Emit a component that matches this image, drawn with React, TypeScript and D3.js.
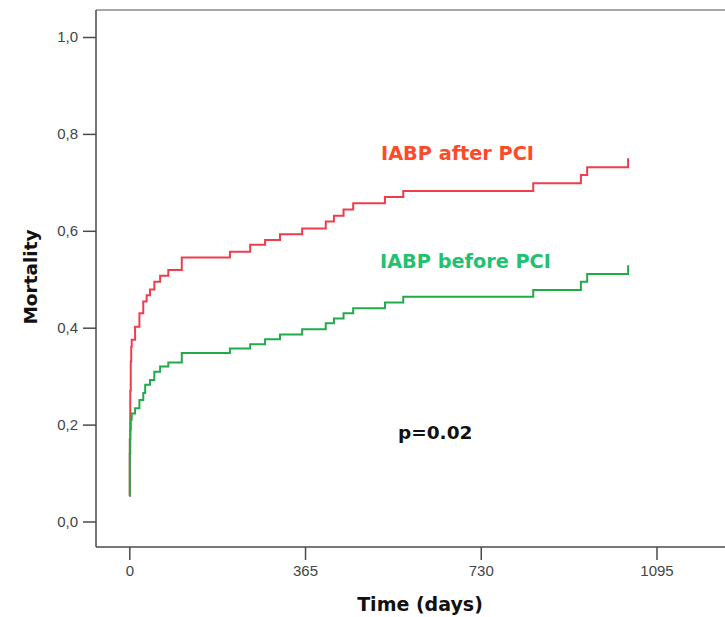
import React, { useEffect, useRef } from "react";
import * as d3 from "d3";

// Kaplan-Meier style mortality curves
const afterDays = [0, 1, 2, 3, 4, 5, 12, 21, 29, 36, 43, 52, 64, 81, 109, 209, 251, 282, 313, 359, 408, 425, 445, 465, 531, 569, 839, 938, 951, 1036];
const afterMortality = [0.053, 0.17, 0.27, 0.33, 0.36, 0.375, 0.402, 0.43, 0.454, 0.467, 0.479, 0.495, 0.507, 0.519, 0.545, 0.557, 0.571, 0.581, 0.593, 0.605, 0.619, 0.631, 0.644, 0.657, 0.67, 0.682, 0.698, 0.715, 0.731, 0.75];

const beforeDays = [0, 1, 2, 3, 5, 12, 21, 29, 33, 43, 52, 64, 81, 109, 209, 251, 282, 313, 359, 408, 425, 445, 465, 531, 569, 839, 938, 951, 1036];
const beforeMortality = [0.053, 0.14, 0.19, 0.21, 0.223, 0.234, 0.251, 0.265, 0.282, 0.292, 0.309, 0.32, 0.328, 0.348, 0.357, 0.366, 0.376, 0.386, 0.397, 0.409, 0.419, 0.43, 0.44, 0.452, 0.464, 0.478, 0.495, 0.511, 0.529];

const xTicks = [0, 365, 730, 1095];
const yTicks = [0, 0.2, 0.4, 0.6, 0.8, 1.0];

const W = 725;
const H = 617;

export default function App() {
  const ref = useRef<SVGSVGElement>(null);

  useEffect(() => {
    const svg = d3.select(ref.current);
    svg.selectAll("*").remove();

    const x = d3.scaleLinear().domain([0, 1095]).range([129.3, 656.5]);
    const y = d3.scaleLinear().domain([0, 1]).range([521.5, 37]);
    const left = 96;
    const top = 10;
    const bottom = 547;

    // frame (open to the right edge of the picture)
    svg.append("line").attr("x1", left).attr("y1", top).attr("x2", W).attr("y2", top)
      .attr("stroke", "#8a8a8a").attr("stroke-width", 1.5);
    svg.append("line").attr("x1", left).attr("y1", top).attr("x2", left).attr("y2", bottom)
      .attr("stroke", "#4a4a4a").attr("stroke-width", 1.5);
    svg.append("line").attr("x1", left).attr("y1", bottom).attr("x2", W).attr("y2", bottom)
      .attr("stroke", "#4a4a4a").attr("stroke-width", 1.5);

    const yAxis = svg.append("g").attr("transform", `translate(${left},0)`)
      .call(
        d3.axisLeft(y).tickValues(yTicks).tickSize(13).tickPadding(5)
          .tickFormat((d) => d3.format(".1f")(d as number).replace(".", ","))
      );
    const xAxis = svg.append("g").attr("transform", `translate(0,${bottom})`)
      .call(d3.axisBottom(x).tickValues(xTicks).tickSize(13).tickPadding(5).tickFormat(d3.format("d")));

    [yAxis, xAxis].forEach((g) => {
      g.select(".domain").remove();
      g.selectAll(".tick line").attr("stroke", "#4a4a4a").attr("stroke-width", 1.5);
      g.selectAll(".tick text")
        .attr("fill", "#444")
        .style("font-family", "'Liberation Sans', Arial, sans-serif")
        .style("font-size", "15px");
    });

    const line = d3.line<[number, number]>()
      .x((d) => x(d[0]))
      .y((d) => y(d[1]))
      .curve(d3.curveStepAfter);

    svg.append("path")
      .datum(d3.zip(afterDays, afterMortality) as [number, number][])
      .attr("d", line)
      .attr("fill", "none")
      .attr("stroke", "#ef3d4c")
      .attr("stroke-width", 2);

    svg.append("path")
      .datum(d3.zip(beforeDays, beforeMortality) as [number, number][])
      .attr("d", line)
      .attr("fill", "none")
      .attr("stroke", "#22aa4a")
      .attr("stroke-width", 2);

    const bold = "'DejaVu Sans', Verdana, sans-serif";

    svg.append("text").attr("x", 381).attr("y", 160)
      .attr("fill", "#ff4a2a").style("font-family", bold).style("font-weight", "bold").style("font-size", "19.3px")
      .text("IABP after PCI");
    svg.append("text").attr("x", 380).attr("y", 268)
      .attr("fill", "#1fc270").style("font-family", bold).style("font-weight", "bold").style("font-size", "19.3px")
      .text("IABP before PCI");
    svg.append("text").attr("x", 398).attr("y", 439)
      .attr("fill", "#111").style("font-family", bold).style("font-weight", "bold").style("font-size", "18.5px")
      .text("p=0.02");

    svg.append("text").attr("x", 420).attr("y", 611).attr("text-anchor", "middle")
      .attr("fill", "#111").style("font-family", bold).style("font-weight", "bold").style("font-size", "19px")
      .text("Time (days)");
    svg.append("text").attr("transform", "translate(37,277) rotate(-90)").attr("text-anchor", "middle")
      .attr("fill", "#111").style("font-family", bold).style("font-weight", "bold").style("font-size", "18.5px")
      .text("Mortality");
  }, []);

  return (
    <svg
      ref={ref}
      width={W}
      height={H}
      style={{ position: "absolute", left: 0, top: 0, background: "#fff" }}
    />
  );
}
